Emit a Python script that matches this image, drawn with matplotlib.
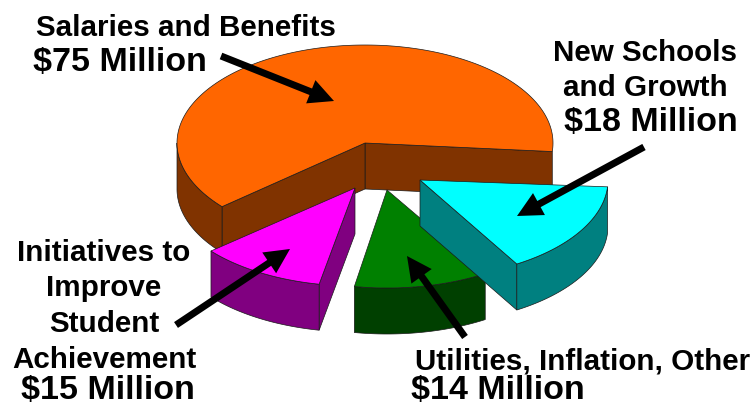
import numpy as np
import matplotlib
matplotlib.use("Agg")
import matplotlib.pyplot as plt
from matplotlib.patches import Polygon, FancyArrow

categories = ["Salaries and Benefits", "Initiatives", "Utilities", "New Schools"]
amounts = [75, 15, 14, 18]
# slice extents (degrees, counter-clockwise on screen from the right)
start_deg = [-5, 220, 260, 301]
end_deg = [220.5, 259, 301.5, 356]
centers_x = [365, 355, 387, 420]
centers_y = [143, 188, 190, 180]
top_colors = ["#FF6600", "#FF00FF", "#008000", "#00FFFF"]
rim_colors = ["#803300", "#800080", "#004000", "#008080"]
# which straight cut faces can be seen from the viewer (start edge, end edge)
cut_visible = [(True, True), (False, True), (False, False), (True, False)]
RX, RY, DEPTH = 188, 98, 46

fig = plt.figure(figsize=(7.54, 4.07), dpi=100)
ax = fig.add_axes([0, 0, 1, 1])
ax.set_xlim(0, 754)
ax.set_ylim(407, 0)
ax.axis("off")


def pt(cx, cy, deg):
    a = np.radians(deg)
    return cx + RX * np.cos(a), cy - RY * np.sin(a)


def arc(cx, cy, a0, a1):
    t = np.radians(np.linspace(a0, a1, 200))
    return np.column_stack([cx + RX * np.cos(t), cy - RY * np.sin(t)])


def draw_slice(i):
    cx, cy, a0, a1 = centers_x[i], centers_y[i], start_deg[i], end_deg[i]
    z = 10 + i
    edge = dict(edgecolor="#1a1a1a", linewidth=0.5, zorder=z)
    for a, visible in zip((a0, a1), cut_visible[i]):
        if visible:
            x, y = pt(cx, cy, a)
            ax.add_patch(Polygon([(cx, cy), (x, y), (x, y + DEPTH), (cx, cy + DEPTH)],
                                 facecolor=rim_colors[i], **edge))
    lo, hi = (180, a1) if i == 0 else (a0, a1)
    top = arc(cx, cy, lo, hi)
    bottom = top[::-1] + np.array([0, DEPTH])
    ax.add_patch(Polygon(np.vstack([top, bottom]), facecolor=rim_colors[i], **edge))
    ax.add_patch(Polygon(np.vstack([[cx, cy], arc(cx, cy, a0, a1)]),
                         facecolor=top_colors[i], **edge))


for i in [0, 1, 2, 3]:
    draw_slice(i)

font = ["Liberation Sans", "DejaVu Sans"]


def label(x, y, s, size):
    ax.text(x, y, s, fontsize=size, fontweight="bold", ha="center", va="center",
            family=font, color="black", zorder=30)


SMALL, BIG = 21.3, 24.5
label(186, 28, categories[0], SMALL)
label(120, 63, f"${amounts[0]} Million", BIG)
label(645, 53, "New Schools", SMALL)
label(645, 88, "and Growth", SMALL)
label(651, 123, f"${amounts[3]} Million", BIG)
label(104, 253, "Initiatives to", SMALL)
label(104, 288, "Improve", SMALL)
label(104, 324, "Student", SMALL)
label(104, 360, "Achievement", SMALL)
label(108, 391, f"${amounts[1]} Million", BIG)
label(583, 361, "Utilities, Inflation, Other", SMALL)
label(498, 391, f"${amounts[2]} Million", BIG)

arrows = [((221, 56), (334, 101)), ((644, 147), (517, 216)),
          ((176, 325), (290, 249)), ((465, 337), (407, 256))]
for (x0, y0), (x1, y1) in arrows:
    ax.add_patch(FancyArrow(x0, y0, x1 - x0, y1 - y0, width=7, head_width=25,
                            head_length=25, length_includes_head=True,
                            facecolor="black", edgecolor="black", linewidth=0, zorder=40))

fig.savefig("out.png", dpi=100)
